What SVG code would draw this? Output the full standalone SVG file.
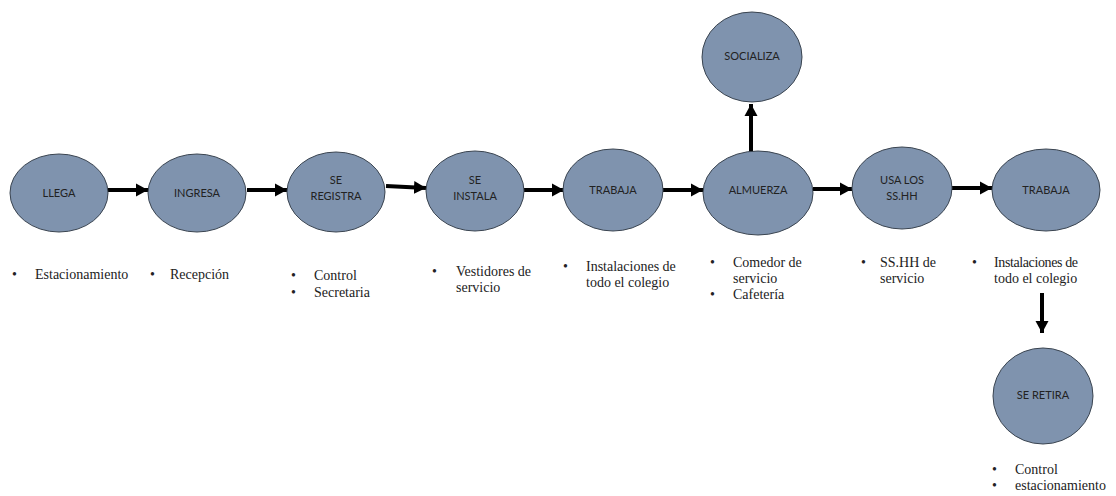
<svg xmlns="http://www.w3.org/2000/svg" width="1116" height="496" viewBox="0 0 1116 496">
<defs>
<marker id="ah" markerUnits="userSpaceOnUse" markerWidth="14" markerHeight="14" refX="12" refY="7" orient="auto">
<polygon points="0,0.5 12,7 0,13.5" fill="#000"/>
</marker>
<style>
.n{fill:#7f93ae;stroke:#3a4450;stroke-width:1}
.t{font-family:Lato,"Open Sans",sans-serif;font-size:11px;fill:#222;text-anchor:middle}
.b{font-family:"Liberation Serif",serif;font-size:14px;fill:#222}
.c{stroke:#000;stroke-width:4;fill:none;marker-end:url(#ah)}
</style>
</defs>
<rect width="1116" height="496" fill="#fff"/>
<g id="connectors">
<line class="c" x1="108" y1="190" x2="148" y2="190"/>
<line class="c" x1="247" y1="190" x2="287" y2="190"/>
<line class="c" x1="386" y1="186" x2="426" y2="188"/>
<line class="c" x1="524" y1="190" x2="564" y2="190"/>
<line class="c" x1="663" y1="190" x2="703" y2="190"/>
<line class="c" x1="813" y1="189" x2="852" y2="189"/>
<line class="c" x1="952" y1="188" x2="992" y2="188"/>
<line class="c" x1="751" y1="152" x2="751" y2="104"/>
<line class="c" x1="1042" y1="293" x2="1042" y2="333"/>
</g>
<g id="llega"><ellipse class="n" cx="59" cy="193" rx="49" ry="39"/><text class="t" x="59" y="197">LLEGA</text></g>
<g id="ingresa"><ellipse class="n" cx="197" cy="193" rx="49" ry="39"/><text class="t" x="197" y="197">INGRESA</text></g>
<g id="se-registra"><ellipse class="n" cx="336" cy="192" rx="49" ry="40"/><text class="t" x="336" y="184">SE</text><text class="t" x="336" y="200">REGISTRA</text></g>
<g id="se-instala"><ellipse class="n" cx="475" cy="191" rx="49" ry="40"/><text class="t" x="475" y="184">SE</text><text class="t" x="475" y="200">INSTALA</text></g>
<g id="trabaja1"><ellipse class="n" cx="613" cy="190" rx="50" ry="41"/><text class="t" x="613" y="194">TRABAJA</text></g>
<g id="almuerza"><ellipse class="n" cx="758" cy="193" rx="55" ry="42"/><text class="t" x="758" y="194">ALMUERZA</text></g>
<g id="usa-los-sshh"><ellipse class="n" cx="902" cy="188" rx="50" ry="41"/><text class="t" x="902" y="184">USA LOS</text><text class="t" x="902" y="200">SS.HH</text></g>
<g id="trabaja2"><ellipse class="n" cx="1046" cy="190" rx="54" ry="41"/><text class="t" x="1046" y="194">TRABAJA</text></g>
<g id="socializa"><ellipse class="n" cx="752" cy="57" rx="50" ry="45"/><text class="t" x="752" y="60">SOCIALIZA</text></g>
<g id="se-retira"><ellipse class="n" cx="1043" cy="396" rx="50" ry="48"/><text class="t" x="1043" y="399">SE RETIRA</text></g>
<g id="labels">
<text class="b" x="12" y="279">•</text><text class="b" x="35" y="279">Estacionamiento</text>
<text class="b" x="150" y="279">•</text><text class="b" x="170" y="279">Recepción</text>
<text class="b" x="291" y="280">•</text><text class="b" x="314" y="280">Control</text>
<text class="b" x="291" y="297">•</text><text class="b" x="314" y="297">Secretaria</text>
<text class="b" x="432" y="276">•</text><text class="b" x="456" y="276">Vestidores de</text>
<text class="b" x="456" y="292">servicio</text>
<text class="b" x="563" y="271">•</text><text class="b" x="586" y="271">Instalaciones  de</text>
<text class="b" x="586" y="287">todo el colegio</text>
<text class="b" x="710" y="267">•</text><text class="b" x="733" y="267">Comedor de</text>
<text class="b" x="733" y="283">servicio</text>
<text class="b" x="710" y="299">•</text><text class="b" x="733" y="299">Cafetería</text>
<text class="b" x="861" y="267">•</text><text class="b" x="880" y="267">SS.HH de</text>
<text class="b" x="880" y="283">servicio</text>
<text class="b" x="972" y="267">•</text><text class="b" x="994" y="267" textLength="84" lengthAdjust="spacing">Instalaciones de</text>
<text class="b" x="994" y="283">todo el colegio</text>
<text class="b" x="992" y="474">•</text><text class="b" x="1015" y="474">Control</text>
<text class="b" x="992" y="490">•</text><text class="b" x="1015" y="490">estacionamiento</text>
</g>
</svg>
